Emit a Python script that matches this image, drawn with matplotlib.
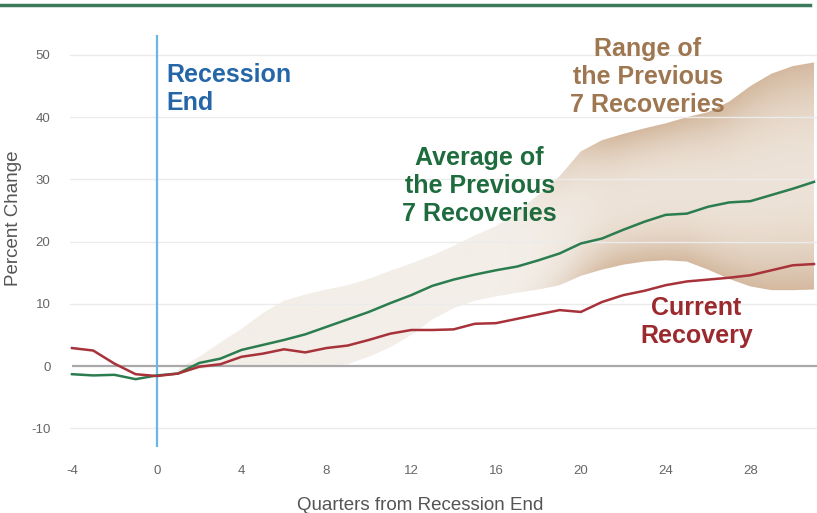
import numpy as np
import matplotlib
matplotlib.use("Agg")
import matplotlib.pyplot as plt
from matplotlib.lines import Line2D
from matplotlib.colors import to_rgb

plt.rcParams['font.family'] = ['Liberation Sans', 'DejaVu Sans']

# ---------------- data ----------------
quarters = list(range(-4, 32))
average_prev = [-1.3, -1.5, -1.4, -2.1, -1.5, -1.2, 0.5, 1.2, 2.6, 3.4, 4.2, 5.1,
                6.3, 7.5, 8.7, 10.1, 11.4, 12.9, 13.9, 14.7, 15.4, 16.0, 17.0, 18.1,
                19.7, 20.5, 21.9, 23.2, 24.3, 24.5, 25.6, 26.3, 26.5, 27.5, 28.5, 29.6]
current = [2.9, 2.5, 0.4, -1.3, -1.6, -1.2, -0.1, 0.3, 1.5, 2.0, 2.7, 2.2,
           2.9, 3.3, 4.2, 5.2, 5.8, 5.8, 5.9, 6.8, 6.9, 7.6, 8.3, 9.0,
           8.7, 10.3, 11.4, 12.1, 13.0, 13.6, 13.9, 14.2, 14.6, 15.4, 16.2, 16.4]

band_quarters = list(range(1, 32))
range_high = [-0.5, 1.5, 3.8, 6.0, 8.5, 10.5, 11.5, 12.3, 13.0, 14.0, 15.3, 16.5,
              17.8, 19.3, 21.0, 22.5, 24.8, 27.5, 30.5, 34.5, 36.3, 37.3, 38.2, 39.0,
              40.0, 40.8, 42.5, 45.0, 47.0, 48.2, 48.8]
range_low = [-1.0, -0.5, 0.0, 0.0, 0.0, 0.0, 0.0, 0.0, 0.3, 1.5, 3.0, 5.0,
             7.5, 9.3, 10.5, 11.2, 11.8, 12.3, 13.0, 14.5, 15.5, 16.3, 16.8, 17.0,
             16.8, 15.5, 14.0, 12.8, 12.2, 12.2, 12.3]

x_ticks = [-4, 0, 4, 8, 12, 16, 20, 24, 28]
y_ticks = [-10, 0, 10, 20, 30, 40, 50]

# ---------------- figure ----------------
W, H = 817, 513
fig = plt.figure(figsize=(W / 100, H / 100), dpi=100)
ax = fig.add_axes([70 / W, 1 - 447 / H, (W - 70) / W, (447 - 35) / H])
xmin, xmax = -4.094, 31.14
ymin, ymax = -13.0, 53.2
ax.set_xlim(xmin, xmax)
ax.set_ylim(ymin, ymax)

for s in ax.spines.values():
    s.set_visible(False)

# gridlines
for yv in y_ticks:
    if yv == 0:
        continue
    ax.axhline(yv, color='#ebebeb', lw=1.0, zorder=2)
ax.plot([-4, xmax], [0, 0], color='#a9a9a9', lw=1.6, zorder=3, solid_capstyle='butt')

# range band with gradient
poly = ax.fill_between(band_quarters, range_low, range_high, facecolor='none',
                       edgecolor='none', zorder=1)
gx = np.linspace(xmin, xmax, 700)
gy = np.linspace(ymin, ymax, 500)
GX, GY = np.meshgrid(gx, gy)
lo = np.interp(GX, band_quarters, range_low)
hi = np.interp(GX, band_quarters, range_high)
t = np.clip((GY - lo) / np.maximum(hi - lo, 1e-6), 0, 1)
edge = (1 - np.sin(np.pi * t)) ** 1.3
xf = np.clip((GX - 15) / 7.0, 0, 1)
xf = xf * xf * (3 - 2 * xf)
faint = np.array(to_rgb('#f3eee8'))
center = np.array(to_rgb('#f5f0ea'))
dark = np.array(to_rgb('#d4b99f'))
d = (xf * (0.25 + 0.75 * edge))[..., None]
col = center * (1 - d) + dark * d
col = faint * (1 - xf[..., None]) + col * xf[..., None]
img = ax.imshow(col, extent=[xmin, xmax, ymin, ymax], origin='lower',
                aspect='auto', zorder=1, interpolation='bilinear')
img.set_clip_path(poly.get_paths()[0], ax.transData)

# recession end line
ax.axvline(0, color='#6cb6e3', lw=1.6, zorder=4)

# series
ax.plot(quarters, average_prev, color='#2b7d4f', lw=1.8, zorder=5)
ax.plot(quarters, current, color='#a8323a', lw=1.8, zorder=6)

# ticks
ax.set_xticks(x_ticks)
ax.set_xticklabels([str(v) for v in x_ticks])
ax.set_yticks(y_ticks)
ax.set_yticklabels([str(v) for v in y_ticks])
ax.tick_params(axis='both', length=0, labelsize=9.5, labelcolor='#666666')
ax.tick_params(axis='x', pad=13)
ax.tick_params(axis='y', pad=14)

# axis labels
fig.text(420 / W, 1 - 505 / H, 'Quarters from Recession End', ha='center', va='center',
         fontsize=13.5, color='#555555')
fig.text(14 / W, 1 - 218 / H, 'Percent Change', ha='center', va='center',
         rotation=90, fontsize=13.5, color='#555555')

# annotations
bold = dict(fontsize=18, fontweight='bold', linespacing=1.22, zorder=7)
ax.text(0.43, 44.5, 'Recession\nEnd', ha='left', va='center', color='#2566a8', **bold)
ax.text(15.23, 28.9, 'Average of\nthe Previous\n7 Recoveries', ha='center', va='center',
        color='#1e6b3e', **bold)
ax.text(23.15, 46.5, 'Range of\nthe Previous\n7 Recoveries', ha='center', va='center',
        color='#9e7650', **bold)
ax.text(25.45, 7.07, 'Current\nRecovery', ha='center', va='center', color='#9b2a2e', **bold)

# top rule
fig.add_artist(Line2D([0, 810 / W], [1 - 5 / H, 1 - 5 / H], transform=fig.transFigure,
                      color='#3b7a5b', lw=2.5))

fig.savefig('out.png', dpi=100)
